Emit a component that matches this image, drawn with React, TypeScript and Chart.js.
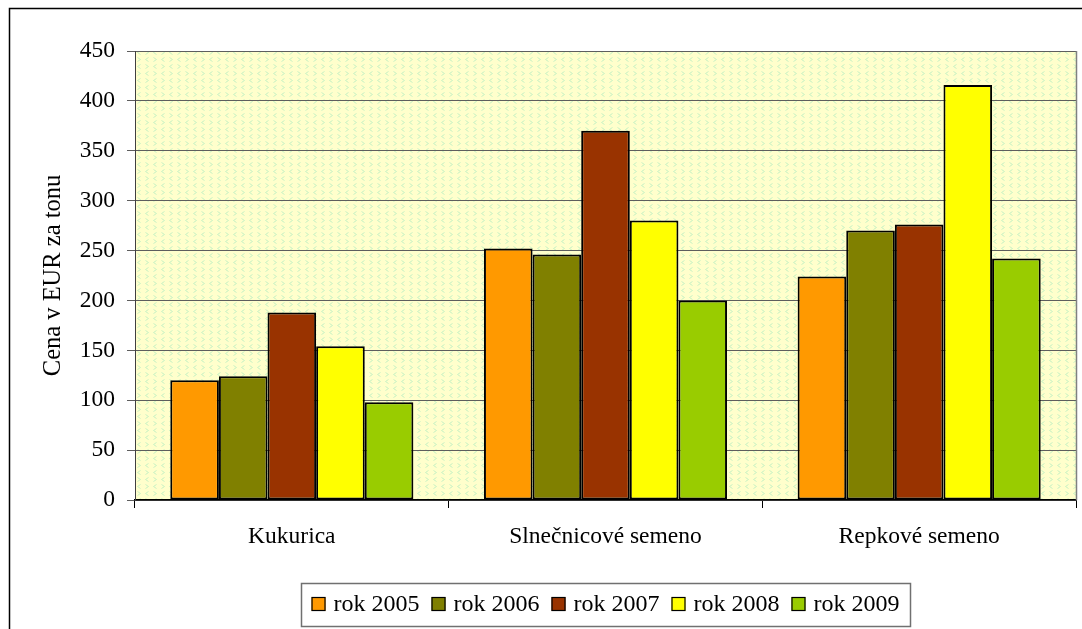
import React, { useEffect, useRef } from "react";
import { Chart, registerables } from "chart.js";

Chart.register(...registerables);

const categories = ["Kukurica", "Slnečnicové semeno", "Repkové semeno"];
const seriesLabels = ["rok 2005", "rok 2006", "rok 2007", "rok 2008", "rok 2009"];
const rok2005 = [120, 252, 224];
const rok2006 = [124, 246, 270];
const rok2007 = [188, 370, 276];
const rok2008 = [154, 280, 416];
const rok2009 = [98, 200, 242];
const seriesColors = ["#FF9900", "#808000", "#993300", "#FFFF00", "#99CC00"];
const yMin = 0;
const yMax = 450;
const yStep = 50;
const yTitle = "Cena v EUR za tonu";

const FONT = '"Liberation Serif", "Times New Roman", serif';
const FS = 23.5;

function makePattern(ctx: CanvasRenderingContext2D) {
  const t = document.createElement("canvas");
  t.width = 16;
  t.height = 14;
  const c = t.getContext("2d")!;
  c.fillStyle = "#FFFFCC";
  c.fillRect(0, 0, 16, 14);
  c.strokeStyle = "#C8F2C4";
  c.lineWidth = 1;
  const chev = (x: number, y: number, dir: number) => {
    c.beginPath();
    c.moveTo(x + (dir > 0 ? 0.5 : 3.5), y + 0.5);
    c.lineTo(x + (dir > 0 ? 3.5 : 0.5), y + 2.5);
    c.lineTo(x + (dir > 0 ? 0.5 : 3.5), y + 4.5);
    c.stroke();
  };
  chev(1, 1, -1);
  chev(9, 1, 1);
  chev(1, 8, 1);
  chev(9, 8, -1);
  return ctx.createPattern(t, "repeat");
}

const decorPlugin = {
  id: "decor",
  beforeDraw(chart: any) {
    const { ctx, chartArea } = chart;
    ctx.save();
    ctx.fillStyle = "#ffffff";
    ctx.fillRect(0, 0, chart.width, chart.height);
    const pat = makePattern(ctx);
    ctx.fillStyle = pat || "#FFFFCC";
    ctx.fillRect(chartArea.left, chartArea.top, chartArea.right - chartArea.left, chartArea.bottom - chartArea.top);
    ctx.restore();
  },
  afterDraw(chart: any) {
    const { ctx, chartArea } = chart;
    ctx.save();
    // plot right border
    ctx.strokeStyle = "#808080";
    ctx.lineWidth = 1.5;
    ctx.beginPath();
    ctx.moveTo(chartArea.right + 0.5, chartArea.top);
    ctx.lineTo(chartArea.right + 0.5, chartArea.bottom);
    ctx.stroke();
    // outer frame
    ctx.strokeStyle = "#000000";
    ctx.lineWidth = 1.5;
    ctx.beginPath();
    ctx.moveTo(9.5, chart.height);
    ctx.lineTo(9.5, 8.5);
    ctx.lineTo(chart.width, 8.5);
    ctx.stroke();

    // legend
    ctx.font = `24px ${FONT}`;
    const ds = chart.data.datasets;
    const sw = 14, g1 = 8, g2 = 12;
    const widths = ds.map((d: any) => ctx.measureText(d.label).width);
    let total = 0;
    widths.forEach((w: number, i: number) => {
      total += sw + g1 + w + (i < widths.length - 1 ? g2 : 0);
    });
    const boxL = 301, boxR = 910, boxT = 583, boxB = 626;
    ctx.fillStyle = "#ffffff";
    ctx.fillRect(boxL, boxT, boxR - boxL, boxB - boxT);
    ctx.strokeStyle = "#707070";
    ctx.lineWidth = 1.5;
    ctx.strokeRect(boxL + 0.5, boxT + 0.5, boxR - boxL, boxB - boxT);
    let x = (boxL + boxR) / 2 - total / 2;
    const cy = 604;
    ctx.textBaseline = "middle";
    ctx.textAlign = "left";
    ds.forEach((d: any, i: number) => {
      ctx.fillStyle = d.backgroundColor;
      ctx.fillRect(x, cy - 7, sw, sw);
      ctx.strokeStyle = "#000000";
      ctx.lineWidth = 1.2;
      ctx.strokeRect(x + 0.5, cy - 6.5, sw - 1, sw - 1);
      x += sw + g1;
      ctx.fillStyle = "#000000";
      ctx.fillText(d.label, x, cy + 1);
      x += widths[i] + g2;
    });
    ctx.restore();
  },
};

export default function App() {
  const ref = useRef<HTMLCanvasElement>(null);
  useEffect(() => {
    const canvas = ref.current!;
    const seriesValues = [rok2005, rok2006, rok2007, rok2008, rok2009];
    const chart = new Chart(canvas, {
      type: "bar",
      data: {
        labels: categories,
        datasets: seriesLabels.map((label, i) => ({
          label,
          data: seriesValues[i],
          backgroundColor: seriesColors[i],
          borderColor: "#000000",
          borderWidth: 2,
          borderSkipped: false,
          categoryPercentage: 0.775,
          barPercentage: 1,
        })),
      },
      options: {
        responsive: false,
        animation: false,
        devicePixelRatio: 1,
        layout: { padding: { top: 51, right: 6, bottom: 0, left: 0 } },
        plugins: {
          legend: { display: false },
          tooltip: { enabled: false },
          title: { display: false },
        },
        scales: {
          x: {
            offset: true,
            grid: {
              offset: true,
              drawOnChartArea: false,
              drawTicks: true,
              tickLength: 8,
              color: "#000000",
              lineWidth: 1,
            },
            border: { display: true, color: "#000000", width: 1.5 },
            ticks: {
              color: "#000000",
              font: { family: FONT, size: FS },
              padding: 15,
              maxRotation: 0,
              autoSkip: false,
            },
            afterFit: (s: any) => {
              s.height = 129;
            },
          },
          y: {
            min: yMin,
            max: yMax,
            ticks: {
              stepSize: yStep,
              color: "#000000",
              font: { family: FONT, size: FS },
              padding: 12,
            },
            grid: {
              color: "#5e5e5e",
              lineWidth: 1,
              tickLength: 8,
              drawTicks: true,
            },
            border: { display: true, color: "#404040", width: 1 },
            title: {
              display: true,
              text: yTitle,
              color: "#000000",
              font: { family: FONT, size: 24.5 },
              padding: { top: 39, bottom: 0 },
            },
            afterFit: (s: any) => {
              s.width = 135;
            },
          },
        },
      },
      plugins: [decorPlugin],
    });
    return () => chart.destroy();
  }, []);
  return (
    <canvas
      ref={ref}
      width={1082}
      height={629}
      style={{ position: "fixed", left: 0, top: 0, width: 1082, height: 629, display: "block" }}
    />
  );
}
